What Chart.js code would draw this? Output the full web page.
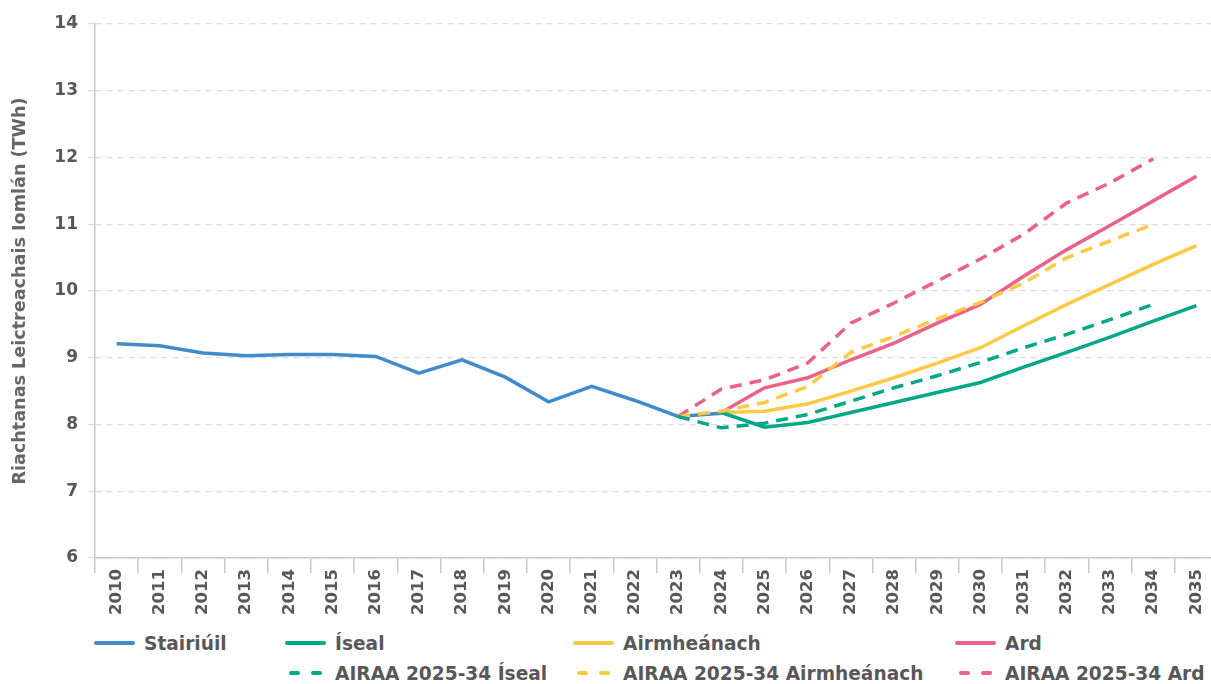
<!DOCTYPE html>
<html>
<head>
<meta charset="utf-8">
<script src="https://cdn.jsdelivr.net/npm/chart.js@4.4.1/dist/chart.umd.min.js"></script>
<style>
  body { margin: 0; background: #fff; font-family: "DejaVu Sans", sans-serif; }
  #wrap { position: relative; width: 1211px; height: 684px; overflow: hidden; }
  #myChart { position: absolute; left: 0; top: 0; }
  .leg { position: absolute; height: 24px; display: flex; align-items: center;
         font-weight: bold; font-size: 18.6px; color: #58585a; white-space: nowrap; }
  .sw { position: absolute; width: 41px; height: 4px; border-radius: 2px; }
  .dash { position: absolute; width: 11px; height: 4px; border-radius: 2px; }
</style>
</head>
<body>
<div id="wrap">
  <canvas id="myChart" width="1218" height="625"></canvas>
  <div id="legend"></div>
</div>
<script>
const years = ["2010","2011","2012","2013","2014","2015","2016","2017","2018","2019","2020","2021","2022",
  "2023","2024","2025","2026","2027","2028","2029","2030","2031","2032","2033","2034","2035"];

const stairiuil = [9.21, 9.18, 9.07, 9.03, 9.05, 9.05, 9.02, 8.77, 8.97, 8.71, 8.34, 8.57, 8.36, 8.12, 8.17,
  null, null, null, null, null, null, null, null, null, null, null];
const iseal = [null, null, null, null, null, null, null, null, null, null, null, null, null, null, 8.18,
  7.96, 8.03, 8.18, 8.33, 8.48, 8.63, 8.86, 9.08, 9.31, 9.55, 9.78];
const airmheanach = [null, null, null, null, null, null, null, null, null, null, null, null, null, null, 8.18,
  8.20, 8.31, 8.50, 8.70, 8.92, 9.15, 9.48, 9.80, 10.10, 10.40, 10.68];
const ard = [null, null, null, null, null, null, null, null, null, null, null, null, null, null, 8.18,
  8.55, 8.70, 8.97, 9.22, 9.52, 9.80, 10.22, 10.62, 10.98, 11.35, 11.72];
const airaaIseal = [null, null, null, null, null, null, null, null, null, null, null, null, null, 8.12, 7.95,
  8.02, 8.15, 8.35, 8.55, 8.73, 8.93, 9.15, 9.35, 9.57, 9.80, null];
const airaaAirmheanach = [null, null, null, null, null, null, null, null, null, null, null, null, null, 8.12, 8.20,
  8.33, 8.57, 9.08, 9.32, 9.58, 9.83, 10.12, 10.50, 10.75, 11.00, null];
const airaaArd = [null, null, null, null, null, null, null, null, null, null, null, null, null, 8.12, 8.53,
  8.67, 8.92, 9.52, 9.82, 10.15, 10.48, 10.85, 11.32, 11.62, 11.98, null];

const blue = "#428bca", green = "#00a887", yellow = "#ffc845", pink = "#ec6186";
const textCol = "#58585a", axisCol = "#c8c8d0", gridCol = "#dcdce2";

const series = [
  { label: "AIRAA 2025-34 Íseal", data: airaaIseal, color: green, dashed: true },
  { label: "AIRAA 2025-34 Airmheánach", data: airaaAirmheanach, color: yellow, dashed: true },
  { label: "AIRAA 2025-34 Ard", data: airaaArd, color: pink, dashed: true },
  { label: "Íseal", data: iseal, color: green },
  { label: "Airmheánach", data: airmheanach, color: yellow },
  { label: "Ard", data: ard, color: pink },
  { label: "Stairiúil", data: stairiuil, color: blue },
];

const ctx = document.getElementById("myChart");
const chart = new Chart(ctx, {
  type: "line",
  data: {
    labels: years,
    datasets: series.map(s => ({
      label: s.label,
      data: s.data,
      borderColor: s.color,
      backgroundColor: s.color,
      borderWidth: 3.5,
      borderDash: s.dashed ? [12, 8] : [],
      pointRadius: 0,
      tension: 0,
      spanGaps: false,
    })),
  },
  options: {
    responsive: false,
    animation: false,
    devicePixelRatio: 1,
    layout: { padding: { top: 24, right: 0, left: 0, bottom: 0 } },
    plugins: { legend: { display: false }, tooltip: { enabled: false } },
    scales: {
      x: {
        offset: true,
        afterFit: (scale) => { scale.height = 67; },
        grid: { offset: true, drawOnChartArea: false, tickLength: 15, color: axisCol, lineWidth: 1.5 },
        border: { color: axisCol, width: 1.5 },
        ticks: {
          minRotation: 90, maxRotation: 90, padding: -4, color: textCol,
          font: { family: "DejaVu Sans", size: 16.5, weight: "bold" },
        },
      },
      y: {
        min: 6,
        max: 14,
        afterFit: (scale) => { scale.width = 95; },
        grid: { color: gridCol, tickLength: 7, lineWidth: 1.2 },
        border: { color: axisCol, width: 1.5, dash: [6, 5] },
        ticks: {
          stepSize: 1, padding: 10, color: textCol,
          font: { family: "DejaVu Sans", size: 17, weight: "bold" },
        },
        title: {
          display: true,
          text: "Riachtanas Leictreachais Iomlán (TWh)",
          color: "#66666a",
          padding: { top: 10, bottom: 0 },
          font: { family: "DejaVu Sans", size: 17.6, weight: "bold" },
        },
      },
    },
  },
});

// legend in a 4 column grid, like the original
const legendItems = [
  { label: "Stairiúil", color: blue, dashed: false, x: 94, y: 643 },
  { label: "Íseal", color: green, dashed: false, x: 285, y: 643 },
  { label: "Airmheánach", color: yellow, dashed: false, x: 573, y: 643 },
  { label: "Ard", color: pink, dashed: false, x: 955, y: 643 },
  { label: "AIRAA 2025-34 Íseal", color: green, dashed: true, x: 285, y: 673 },
  { label: "AIRAA 2025-34 Airmheánach", color: yellow, dashed: true, x: 573, y: 673 },
  { label: "AIRAA 2025-34 Ard", color: pink, dashed: true, x: 955, y: 673 },
];
const legend = document.getElementById("legend");
legendItems.forEach(it => {
  if (it.dashed) {
    [0, 22].forEach(off => {
      const d = document.createElement("div");
      d.className = "dash";
      d.style.background = it.color;
      d.style.left = (it.x + off + 4) + "px";
      d.style.top = (it.y - 2) + "px";
      legend.appendChild(d);
    });
  } else {
    const sw = document.createElement("div");
    sw.className = "sw";
    sw.style.background = it.color;
    sw.style.left = it.x + "px";
    sw.style.top = (it.y - 2) + "px";
    legend.appendChild(sw);
  }
  const t = document.createElement("div");
  t.className = "leg";
  t.textContent = it.label;
  t.style.left = (it.x + 50) + "px";
  t.style.top = (it.y - 12) + "px";
  legend.appendChild(t);
});
</script>
</body>
</html>
